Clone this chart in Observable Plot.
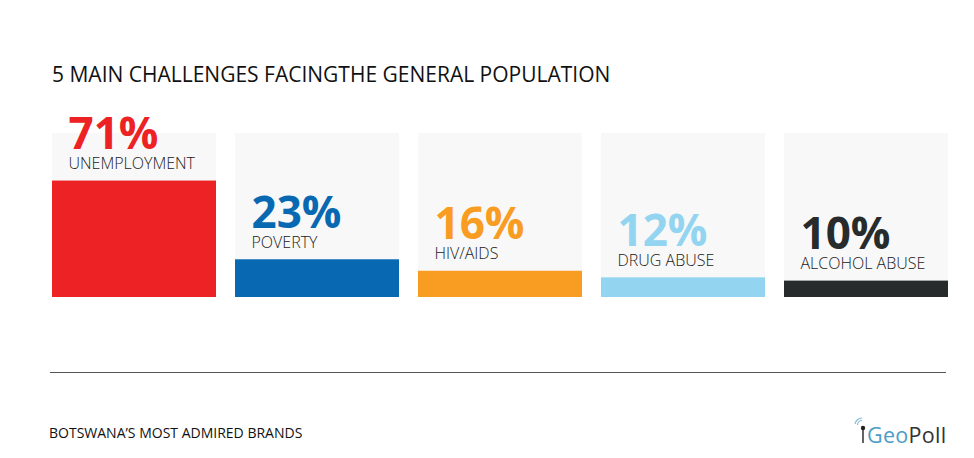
<!DOCTYPE html>
<html><head><meta charset="utf-8">
<script src="https://cdn.jsdelivr.net/npm/d3@7"></script>
<script src="https://cdn.jsdelivr.net/npm/@observablehq/plot@0.6"></script>
<style>
body{margin:0;background:#fff;font-family:"Open Sans",sans-serif;}
#wrap{position:relative;width:974px;height:458px;overflow:hidden;background:#fff}
#chart{position:absolute;left:0;top:0}
.title{position:absolute;left:52px;top:64px;font-size:21px;line-height:21px;color:#111;white-space:nowrap}
.rule{position:absolute;left:50px;top:372px;width:896px;height:0;border-top:1.5px solid #555}
.foot{position:absolute;left:49px;top:425.5px;font-size:14px;line-height:14px;color:#111;white-space:nowrap}
.logo{position:absolute;left:852px;top:416px;height:30px;white-space:nowrap}
.logo svg{position:absolute;left:0;top:0}
.logo span{position:absolute;left:15px;top:8px;font-size:21.5px;line-height:21.5px;letter-spacing:0.3px}
</style></head><body>
<div id="wrap">
  <div id="chart"></div>
  <div class="title">5 MAIN CHALLENGES FACINGTHE GENERAL POPULATION</div>
  <div class="rule"></div>
  <div class="foot">BOTSWANA’S MOST ADMIRED BRANDS</div>
  <div class="logo">
    <svg width="16" height="30" viewBox="0 0 16 30">
      <path d="M3 8 A7 7 0 0 1 10 2" fill="none" stroke="#7fbcd8" stroke-width="1.2"/>
      <path d="M5.5 9 A4.5 4.5 0 0 1 10 4.5" fill="none" stroke="#7fbcd8" stroke-width="1.2"/>
      <circle cx="11" cy="12" r="2.2" fill="#222"/>
      <line x1="11" y1="12" x2="11" y2="27" stroke="#222" stroke-width="1.4"/>
    </svg>
    <span><span style="position:static;color:#4b9dc5">Geo</span><span style="position:static;color:#333">Poll</span></span>
  </div>
</div>
<script>
const categories = ["UNEMPLOYMENT", "POVERTY", "HIV/AIDS", "DRUG ABUSE", "ALCOHOL ABUSE"];
const values = [71, 23, 16, 12, 10];
const colors = ["#ed2224", "#0869b2", "#f89c22", "#93d5f0", "#272b2c"];

const data = categories.map((c, i) => ({cat: c, value: values[i]}));

const chart = Plot.plot({
  width: 974,
  height: 458,
  marginTop: 133,
  marginBottom: 161,
  marginLeft: 51,
  marginRight: 26,
  style: {fontFamily: "Open Sans", background: "transparent"},
  x: {domain: categories, paddingInner: 0.104, paddingOuter: 0, axis: null},
  y: {domain: [0, 100], axis: null},
  color: {domain: categories, range: colors},
  marks: [
    Plot.barY(categories, {x: d => d, y: 100, fill: "#f8f8f8"}),
    Plot.barY(data, {x: "cat", y: "value", fill: "cat"}),
    Plot.text(data, {x: "cat", y: "value", text: d => d.value + "%", fill: "cat",
      textAnchor: "start", lineAnchor: "bottom", dx: -66, dy: -32,
      fontSize: 44, fontWeight: 700, fontFamily: "Open Sans"}),
    Plot.text(data, {x: "cat", y: "value", text: "cat", fill: "#1a1a1a",
      textAnchor: "start", lineAnchor: "bottom", dx: -66, dy: -12,
      fontSize: 16, fontWeight: 300, fontFamily: "Open Sans"})
  ]
});
document.getElementById("chart").appendChild(chart);
</script>
</body></html>
